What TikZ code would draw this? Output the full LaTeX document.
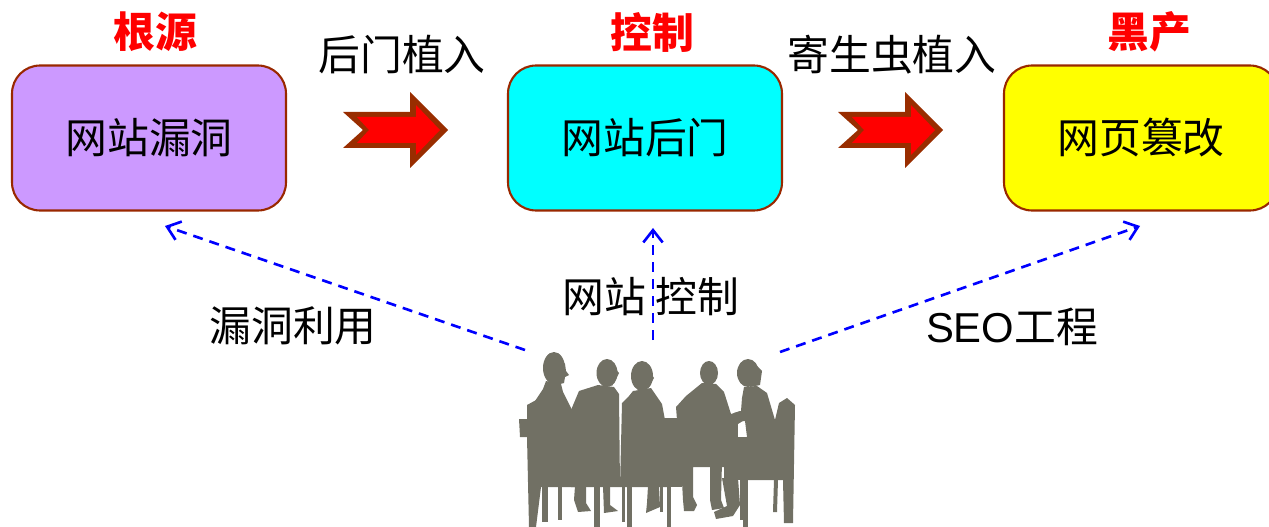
\documentclass[tikz,border=0pt]{standalone}
\usepackage{fontspec}
\newfontfamily\cjk{Noto Sans CJK SC}
\newfontfamily\latn{Liberation Sans}
\usetikzlibrary{arrows.meta}
\definecolor{rim}{RGB}{153,40,0}
\definecolor{arrowrim}{RGB}{153,45,0}
\definecolor{lilac}{RGB}{204,153,255}
\definecolor{aqua}{RGB}{0,255,255}
\definecolor{lemon}{RGB}{255,255,0}
\definecolor{crowd}{RGB}{113,112,100}
\definecolor{linkblue}{RGB}{0,0,255}

\begin{document}
\begin{tikzpicture}[x=0.02cm,y=-0.02cm,
  stage/.style={draw=rim, line width=1.2pt, rounded corners=0.56cm,
    minimum width=5.48cm, minimum height=2.9cm, inner sep=0pt,
    font=\cjk\fontsize{23.8}{28}\selectfont},
  heading/.style={font=\cjk\bfseries\fontsize{23.8}{28}\selectfont, text=red, inner sep=0pt},
  caption/.style={font=\cjk\fontsize{23.8}{28}\selectfont, inner sep=0pt},
  probe/.style={draw=linkblue, line width=1.5pt, dash pattern=on 5.7pt off 4pt,
    -{Straight Barb[length=7pt,width=11pt,line width=1.5pt]}},
  crowdfill/.style={fill=crowd, draw=none},
  pics/pusharrow/.style={code={
    \fill[arrowrim] (0,-18) -- (67,-18) -- (67,-38) -- (105,0) -- (67,38)
      -- (67,18) -- (0,18) -- (20,0) -- cycle;
    \fill[red] (14,-13) -- (73,-13) -- (73,-25) -- (97,0) -- (73,25)
      -- (73,13) -- (14,13) -- (26,0) -- cycle;
  }}]

\useasboundingbox (0,0) rectangle (1269,527);
\clip (0,0) rectangle (1269,527);

% stages of the chain
\node[stage, fill=lilac] (root) at (149,138) {网站漏洞};
\node[stage, fill=aqua]  (ctrl) at (645,138) {网站后门};
\node[stage, fill=lemon] (gray) at (1141,138) {网页篡改};

\node[heading] (rootT) at (155,32) {根源};
\node[heading] (ctrlT) at (652,32) {控制};
\node[heading] (grayT) at (1149,32) {黑产};

% block arrows between stages
\pic at (343,130) {pusharrow};
\pic at (838,130) {pusharrow};
\node[caption] (step1) at (402,55) {后门植入};
\node[caption] (step2) at (892,55) {寄生虫植入};

% dashed links from the team up to each stage
\coordinate (teamL) at (525,350);
\coordinate (teamM) at (653,340);
\coordinate (teamR) at (780,352);
\coordinate (rootIn) at (165,226);
\coordinate (ctrlIn) at (653,228);
\coordinate (grayIn) at (1140,226);
\draw[probe] (teamL) -- (rootIn);
\draw[probe] (teamM) -- (ctrlIn);
\draw[probe] (teamR) -- (grayIn);

\node[caption] (useL) at (293,326) {漏洞利用};
\node[caption] (useM) at (651,297) {网站 控制};
\node[caption] (useR) at (1012,327) {{\latn SEO}工程};

% team silhouette around a table
% far-left chair
\fill[crowdfill] (527,405) -- (538,399) -- (541,487) -- (536,527) -- (529,527)
  -- (527,437) -- (520,437) -- (519,419) -- (527,419) -- cycle;
% person 1
\fill[crowdfill] (554,368) ellipse [x radius=11, y radius=16];
\fill[crowdfill] (560,358) -- (565,364) -- (566,371) -- (569,375) -- (565,377)
  -- (564,383) -- (556,385) -- cycle;
\fill[crowdfill] (546,381) -- (561,384) -- (563,392) -- (572,410) -- (576,487)
  -- (537,487) -- (535,401) -- (543,389) -- cycle;
\fill[crowdfill] (575,486) -- (586,486) -- (586,503) -- (591,511) -- (578,512)
  -- (574,500) -- cycle;
% person 2
\fill[crowdfill] (607,373) ellipse [x radius=10.5, y radius=14];
\fill[crowdfill] (613,366) -- (619,373) -- (616,379) -- (612,386) -- cycle;
\fill[crowdfill] (598,385) -- (614,387) -- (619,394) -- (620,487) -- (571,487)
  -- (571,410) -- (579,391) -- cycle;
% person 3
\fill[crowdfill] (642,376) ellipse [x radius=11, y radius=15];
\fill[crowdfill] (649,370) -- (654,378) -- (651,383) -- (648,388) -- cycle;
\fill[crowdfill] (633,391) -- (651,388) -- (662,404) -- (665,420) -- (668,487)
  -- (620,487) -- (622,403) -- (629,396) -- cycle;
% table end
\fill[crowdfill] (660,418) rectangle (682,487);
% chair and table legs on the left
\fill[crowdfill] (542,486) rectangle (548,522);
\fill[crowdfill] (558,486) rectangle (562,520);
\fill[crowdfill] (594,486) rectangle (600,527);
\fill[crowdfill] (603,486) -- (610,486) -- (610,505) -- (618,511) -- (604,513) -- cycle;
\fill[crowdfill] (622,486) rectangle (625,522);
\fill[crowdfill] (627,486) rectangle (632,527);
\fill[crowdfill] (648,486) -- (659,486) -- (660,507) -- (646,513) -- (647,503) -- cycle;
\fill[crowdfill] (660,486) rectangle (663,512);
\fill[crowdfill] (667,486) rectangle (671,527);
% person 4, seen from behind
\fill[crowdfill] (709,373) ellipse [x radius=9, y radius=12];
\fill[crowdfill] (702,383) -- (716,384) -- (724,392) -- (731,414) -- (740,411)
  -- (746,419) -- (738,424) -- (726,428) -- (724,467) -- (693,467) -- (693,497)
  -- (697,505) -- (694,511) -- (684,511) -- (683,500) -- (680,445) -- (677,420)
  -- (676,407) -- (686,396) -- cycle;
\fill[crowdfill] (710,462) -- (722,462) -- (721,500) -- (724,508) -- (712,510)
  -- (710,500) -- cycle;
% person 5
\fill[crowdfill] (748,373) ellipse [x radius=11, y radius=14];
\fill[crowdfill] (752,361) -- (762,371) -- (760,385) -- (750,387) -- cycle;
\fill[crowdfill] (744,387) -- (757,386) -- (767,393) -- (775,420) -- (778,480)
  -- (748,480) -- (747,437) -- (745,421) -- (740,421) -- (733,419) -- (734,413)
  -- (741,411) -- (742,398) -- cycle;
\fill[crowdfill] (724,420) rectangle (738,480);
\fill[crowdfill] (738,437) rectangle (748,480);
\fill[crowdfill] (722,478) -- (738,478) -- (740,505) -- (733,516) -- (716,519)
  -- (714,512) -- (727,506) -- cycle;
\fill[crowdfill] (740,478) rectangle (743,520);
\fill[crowdfill] (743,478) rectangle (748,527);
% far-right chair
\fill[crowdfill] (775,420) -- (779,403) -- (787,398) -- (795,405) -- (793,523)
  -- (784,523) -- (783,480) -- (778,480) -- (777,512) -- (773,512) -- (774,480) -- cycle;
\end{tikzpicture}
\end{document}
